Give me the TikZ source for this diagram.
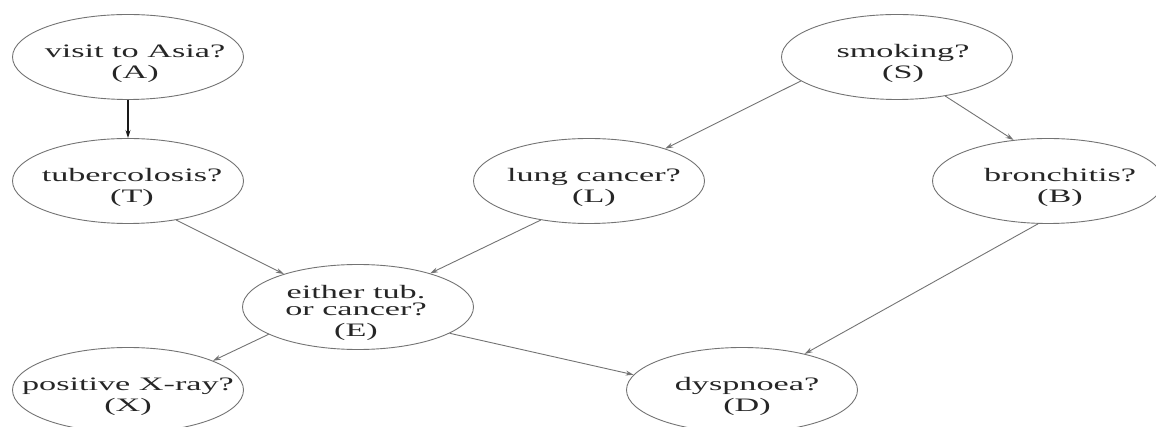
\documentclass[tikz,border=0pt]{standalone}
\usepackage{fontspec}
\setmainfont{Liberation Serif}[FakeStretch=1.8]
\usetikzlibrary{shapes.geometric,arrows.meta}
% centred label that does not widen the ellipse; #1 = twice the horizontal shift
\newcommand\nodetext[2][0pt]{\makebox[0pt]{\hspace*{#1}\raisebox{-11pt}[0pt][0pt]{\begin{tabular}[c]{@{}c@{}}#2\end{tabular}}}}
\begin{document}
\begin{tikzpicture}[x=1pt,y=-1pt,
  bn/.style={ellipse, draw=black!55, line width=0.9pt, minimum width=231pt,
    minimum height=85pt, inner sep=0pt, text=black!85,
    font=\fontsize{19}{21}\selectfont},
  link/.style={draw=black!55, line width=0.9pt, -{Stealth[length=8pt,width=5pt]}},
  strong/.style={draw=black!90, line width=1.2pt, -{Stealth[length=8pt,width=5pt]}}]
\useasboundingbox (0,0) rectangle (1156,427);

\node[bn] (A) at (128,57)  {\nodetext[14pt]{visit to Asia?\\(A)}};
\node[bn] (T) at (128,181) {\nodetext[8pt]{tubercolosis?\\(T)}};
\node[bn] (S) at (897,57)  {\nodetext[12pt]{smoking?\\(S)}};
\node[bn] (L) at (589,181) {\nodetext[10pt]{lung cancer?\\(L)}};
\node[bn] (B) at (1048,181){\nodetext[24pt]{bronchitis?\\(B)}};
\node[bn] (E) at (358,307) {\nodetext[-4pt]{either tub.\\[-4pt]or cancer?\\(E)}};
\node[bn] (X) at (128,390) {\nodetext{positive X-ray?\\(X)}};
\node[bn] (D) at (742,390) {\nodetext[10pt]{dyspnoea?\\(D)}};

\draw[strong] (A.south) -- (T.north);
\draw[link] (T.321) -- (E.156);
\draw[link] (L.219) -- (E.25);
\draw[link] (S.194) -- (L.23);
\draw[link] (S.321) -- (B.130);
\draw[link] (B.257) -- (D.30);
\draw[link] (E.197) -- (X.19);
\draw[link] (E.344) -- (D.172);
\end{tikzpicture}
\end{document}
